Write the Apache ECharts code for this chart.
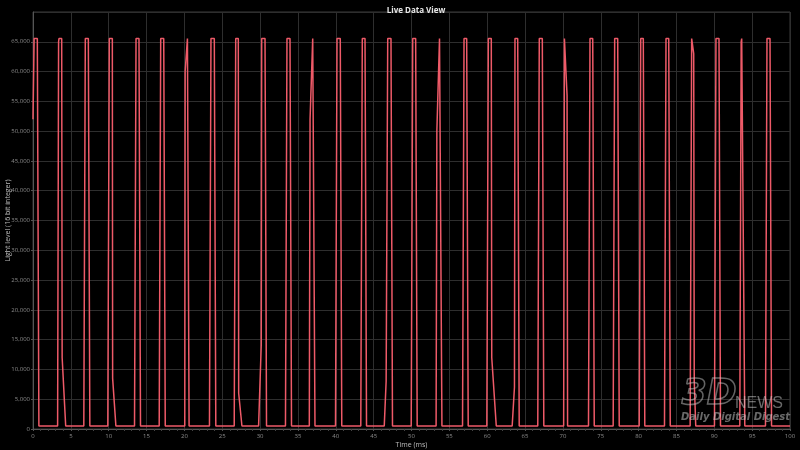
<!DOCTYPE html>
<html>
<head>
<meta charset="utf-8">
<script src="https://cdn.jsdelivr.net/npm/echarts@6/dist/echarts.min.js"></script>
<style>
html,body{margin:0;padding:0;background:#000;}
#c{width:800px;height:450px;}
</style>
</head>
<body>
<div id="c"></div>
<script>
// Vertices of the recorded light waveform (time in ms, level as 16-bit integer)
const timeMs = [
  0.00, 0.15, 0.57, 0.78,
  3.25, 3.38, 3.43, 3.79, 3.85, 4.32,
  6.71, 6.91, 7.31, 7.51,
  9.88, 10.08, 10.48, 10.52, 10.95,
  13.41, 13.61, 14.00, 14.20,
  16.67, 16.87, 17.27, 17.47,
  20.05, 20.10, 20.40, 20.48, 20.62,
  23.31, 23.51, 23.95, 24.15,
  26.58, 26.78, 27.12, 27.17, 27.60,
  29.80, 30.15, 30.21, 30.65, 30.85,
  33.35, 33.55, 33.95, 34.15,
  36.50, 36.60, 36.95, 37.08, 37.25,
  39.96, 40.16, 40.59, 40.79,
  43.30, 43.50, 43.86, 44.06,
  46.40, 46.65, 46.86, 47.29, 47.49,
  49.96, 50.16, 50.55, 50.75,
  53.25, 53.35, 53.70, 53.86, 54.02,
  56.74, 56.94, 57.29, 57.49,
  59.95, 60.15, 60.54, 60.60, 61.20,
  63.30, 63.60, 63.67, 64.03, 64.23,
  66.68, 66.88, 67.28, 67.48,
  70.10, 70.20, 70.35, 70.55, 70.62,
  73.38, 73.58, 73.94, 74.14,
  76.64, 76.84, 77.24, 77.44,
  80.08, 80.28, 80.62, 80.82,
  83.42, 83.62, 83.98, 84.18,
  86.81, 87.01, 87.28, 87.35, 87.55,
  90.02, 90.22, 90.62, 90.82,
  93.37, 93.55, 93.62, 93.83, 94.03,
  96.76, 96.96, 97.36, 97.56,
  100.00
];
const lightLevel = [
  52000, 65535, 65535, 500,
  500, 65000, 65535, 65535, 12000, 500,
  500, 65535, 65535, 500,
  500, 65535, 65535, 8500, 500,
  500, 65535, 65535, 500,
  500, 65535, 65535, 500,
  500, 60000, 65535, 65535, 500,
  500, 65535, 65535, 500,
  500, 65535, 65535, 6000, 500,
  500, 14000, 65535, 65535, 500,
  500, 65535, 65535, 500,
  500, 52000, 65535, 65535, 500,
  500, 65535, 65535, 500,
  500, 65535, 65535, 500,
  500, 8000, 65535, 65535, 500,
  500, 65535, 65535, 500,
  500, 50000, 65535, 65535, 500,
  500, 65535, 65535, 500,
  500, 65535, 65535, 12000, 500,
  500, 7000, 65535, 65535, 500,
  500, 65535, 65535, 500,
  500, 65535, 65535, 56000, 500,
  500, 65535, 65535, 500,
  500, 65535, 65535, 500,
  500, 65535, 65535, 500,
  500, 65535, 65535, 500,
  500, 65535, 63000, 8000, 500,
  500, 65535, 65535, 500,
  500, 65000, 65535, 65535, 500,
  500, 65535, 65535, 500,
  500
];
const chartTitle = 'Live Data View';
const xAxisName = 'Time (ms)';
const yAxisName = 'Light level (16 bit integer)';

const seriesData = timeMs.map((t, i) => [t, lightLevel[i]]);

const chart = echarts.init(document.getElementById('c'), null, {renderer: 'canvas'});
const labelColor = '#8a8a8a';
const gridColor = '#2e2e2e';
chart.setOption({
  backgroundColor: '#000',
  animation: false,
  title: {
    text: chartTitle,
    left: 411, top: 2,
    textAlign: 'center',
    textStyle: {color: '#e6e6e6', fontSize: 8, fontWeight: 'bold', fontFamily: 'Open Sans'}
  },
  grid: {left: 33, right: 10, top: 12, bottom: 21, show: true, borderColor: '#3a3a3a', borderWidth: 1,
         containLabel: false, outerBoundsMode: 'none'},
  xAxis: {
    type: 'value', min: 0, max: 100, interval: 5,
    name: xAxisName, nameLocation: 'middle', nameGap: 12, nameMoveOverlap: false,
    nameTextStyle: {color: '#bdbdbd', fontSize: 7, fontFamily: 'Open Sans'},
    axisLine: {show: true, lineStyle: {color: '#555'}},
    axisTick: {show: true, length: 2, lineStyle: {color: '#555'}},
    minorTick: {show: true, splitNumber: 5, length: 2, lineStyle: {color: '#444'}},
    axisLabel: {color: labelColor, fontSize: 6, margin: 4, fontFamily: 'Open Sans'},
    splitLine: {show: true, lineStyle: {color: gridColor, width: 1}}
  },
  yAxis: {
    type: 'value', min: 0, max: 70000, interval: 5000,
    name: yAxisName, nameLocation: 'middle', nameGap: 22, nameRotate: 90, nameMoveOverlap: false,
    nameTextStyle: {color: '#bdbdbd', fontSize: 7, fontFamily: 'Open Sans'},
    axisLine: {show: true, lineStyle: {color: '#555'}},
    axisTick: {show: true, length: 2, lineStyle: {color: '#555'}},
    axisLabel: {
      color: labelColor, fontSize: 6, margin: 3, fontFamily: 'Open Sans',
      showMaxLabel: false,
      formatter: v => v.toLocaleString('en-US')
    },
    splitLine: {show: true, lineStyle: {color: gridColor, width: 1}}
  },
  series: [{
    type: 'line',
    data: seriesData,
    showSymbol: false,
    symbol: 'none',
    lineStyle: {color: '#ee5a68', width: 1.5},
    z: 3
  }],
  graphic: [
    {type: 'text', left: 681, top: 376, z: 10, silent: true,
     style: {text: '3D', fill: 'rgba(0,0,0,0)', stroke: 'rgba(200,200,200,0.5)', lineWidth: 1.5,
             font: 'bold italic 36px "DejaVu Sans"'}},
    {type: 'text', left: 735, top: 396, z: 10, silent: true,
     style: {text: 'NEWS', fill: 'rgba(210,210,210,0.5)', font: '16px "Liberation Sans"'}},
    {type: 'text', left: 681, top: 412, z: 10, silent: true,
     style: {text: 'Daily Digital Digest', fill: 'rgba(210,210,210,0.5)', font: 'bold italic 10px "DejaVu Sans"'}}
  ]
});
</script>
</body>
</html>
